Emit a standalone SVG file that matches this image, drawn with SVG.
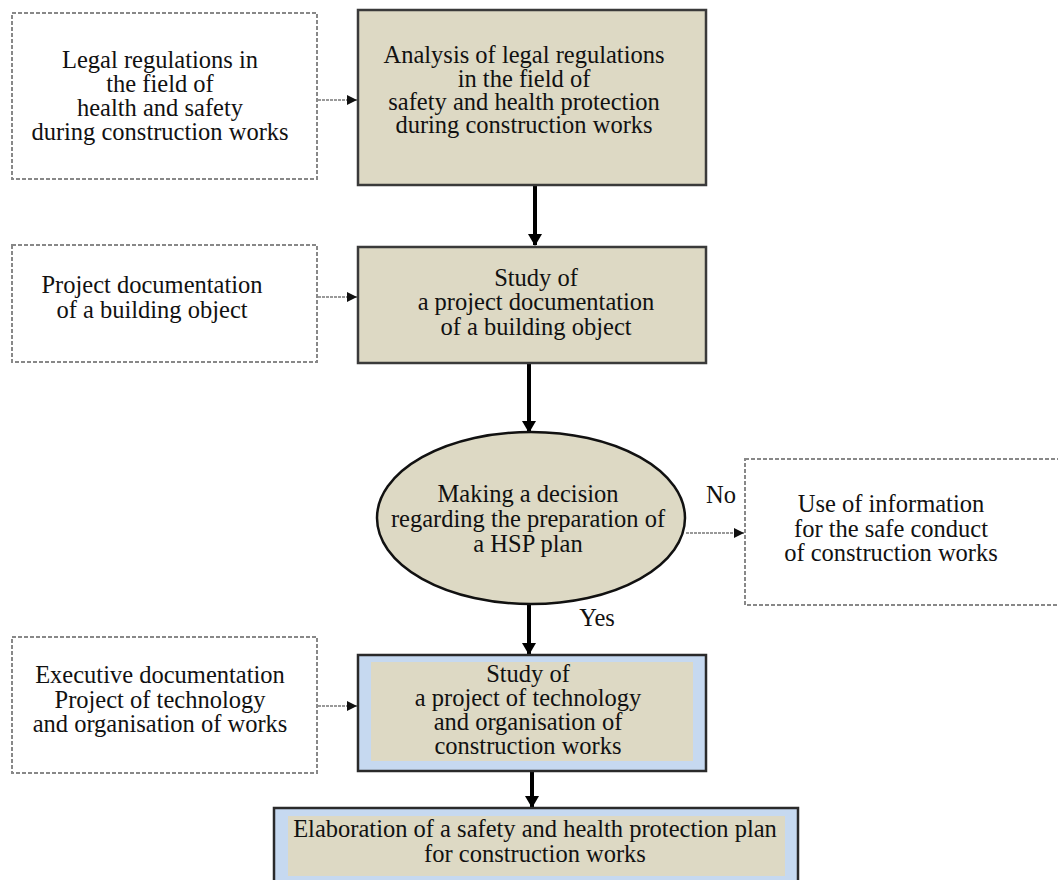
<svg xmlns="http://www.w3.org/2000/svg" width="1058" height="880" viewBox="0 0 1058 880">
<defs>
<style>
text{font-family:"Liberation Serif","Times New Roman",serif;font-size:24.5px;fill:#111;text-anchor:middle}
.dash{fill:#fff;stroke:#888;stroke-width:2;stroke-dasharray:4 2}
.main{fill:#ddd9c4;stroke:#3a3a3a;stroke-width:2.5}
.outer{fill:#c6d9f0;stroke:#2a2a2a;stroke-width:2.5}
.inner{fill:#ddd9c4;stroke:none}
.thick{stroke:#000;stroke-width:4;fill:none}
.thin{stroke:#999;stroke-width:2;stroke-dasharray:3 1;fill:none}
</style>
<marker id="ah" markerWidth="14" markerHeight="14" refX="11" refY="7" orient="auto" markerUnits="userSpaceOnUse"><path d="M0,0 L12,7 L0,14 Z" fill="#000"/></marker>
<marker id="as" markerWidth="12" markerHeight="12" refX="10" refY="6" orient="auto" markerUnits="userSpaceOnUse"><path d="M0,1 L10,6 L0,11 Z" fill="#111"/></marker>
</defs>
<g id="connectors">
<line class="thin" x1="318" y1="100" x2="357" y2="100" marker-end="url(#as)"/>
<line class="thick" x1="535" y1="186" x2="535" y2="245" marker-end="url(#ah)"/>
<line class="thin" x1="318" y1="297" x2="357" y2="297" marker-end="url(#as)"/>
<line class="thick" x1="529" y1="364" x2="529" y2="432" marker-end="url(#ah)"/>
<line class="thin" x1="686" y1="533" x2="744" y2="533" marker-end="url(#as)"/>
<line class="thick" x1="529" y1="605" x2="529" y2="654" marker-end="url(#ah)"/>
<line class="thin" x1="318" y1="706" x2="357" y2="706" marker-end="url(#as)"/>
<line class="thick" x1="532" y1="772" x2="532" y2="807" marker-end="url(#ah)"/>
<text x="721" y="503">No</text>
<text x="597" y="626">Yes</text>
</g>
<g id="legal">
<rect class="dash" x="12" y="13" width="305" height="166"/>
<text x="160" y="68">Legal regulations in</text>
<text x="160" y="92">the field of</text>
<text x="160" y="116">health and safety</text>
<text x="160" y="140">during construction works</text>
</g>
<g id="analysis">
<rect class="main" x="358" y="10" width="348" height="175"/>
<text x="524" y="63">Analysis of legal regulations</text>
<text x="524" y="87">in the field of</text>
<text x="524" y="110">safety and health protection</text>
<text x="524" y="133">during construction works</text>
</g>
<g id="projdoc">
<rect class="dash" x="12" y="245" width="305" height="117"/>
<text x="152" y="293">Project documentation</text>
<text x="152" y="318">of a building object</text>
</g>
<g id="study1">
<rect class="main" x="358" y="247" width="348" height="116"/>
<text x="536" y="286">Study of</text>
<text x="536" y="310">a project documentation</text>
<text x="536" y="335">of a building object</text>
</g>
<g id="decision">
<ellipse cx="531" cy="518" rx="154" ry="86" fill="#ddd9c4" stroke="#111" stroke-width="2.5"/>
<text x="528" y="502">Making a decision</text>
<text x="528" y="527">regarding the preparation of</text>
<text x="528" y="552">a HSP plan</text>
</g>
<g id="useinfo">
<rect class="dash" x="745" y="459" width="320" height="146"/>
<text x="891" y="512">Use of information</text>
<text x="891" y="537">for the safe conduct</text>
<text x="891" y="561">of construction works</text>
</g>
<g id="execdoc">
<rect class="dash" x="12" y="637" width="305" height="136"/>
<text x="160" y="683">Executive documentation</text>
<text x="160" y="708">Project of technology</text>
<text x="160" y="732">and organisation of works</text>
</g>
<g id="study2">
<rect class="outer" x="358" y="655" width="348" height="116"/>
<rect class="inner" x="371" y="662" width="322" height="99"/>
<text x="528" y="682">Study of</text>
<text x="528" y="706">a project of technology</text>
<text x="528" y="730">and organisation of</text>
<text x="528" y="754">construction works</text>
</g>
<g id="elaboration">
<rect class="outer" x="274" y="808" width="524" height="80"/>
<rect class="inner" x="288" y="816" width="497" height="60"/>
<text x="535" y="837">Elaboration of a safety and health protection plan</text>
<text x="535" y="862">for construction works</text>
</g>
</svg>
